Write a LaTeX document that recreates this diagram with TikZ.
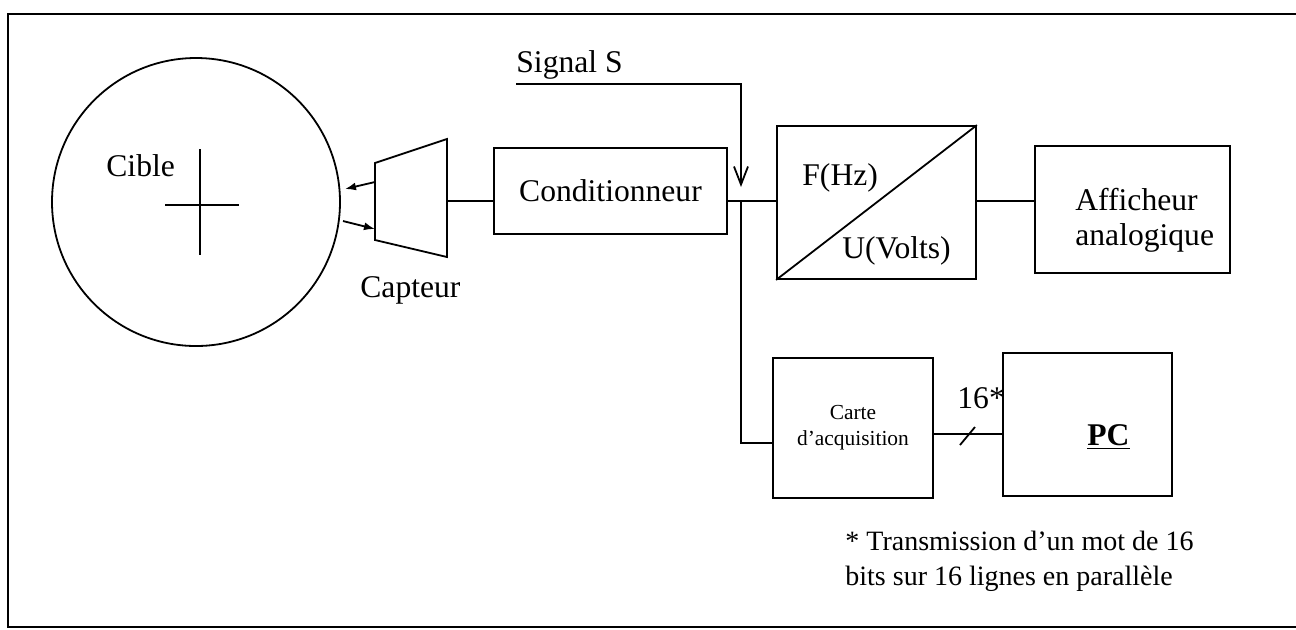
\documentclass[tikz,border=0pt]{standalone}
\usepackage{fontspec}
\setmainfont{Liberation Serif}
\usetikzlibrary{arrows.meta,calc}
\begin{document}
\begin{tikzpicture}[x=0.5pt,y=-0.5pt,
  ln/.style={line width=0.9pt},
  box/.style={draw,line width=0.9pt,rectangle,inner sep=0pt},
  txt/.style={inner sep=0pt,font=\fontsize{15.8}{18}\selectfont},
  note/.style={inner sep=0pt,font=\fontsize{14}{17}\selectfont},
  small/.style={inner sep=0pt,font=\fontsize{10.7}{13}\selectfont},
  vtip/.style={-{Straight Barb[length=9pt,width=7pt]}},
  ftip/.style={-{Latex[length=5.5pt,width=4pt]}}]
\useasboundingbox (0,0) rectangle (1296,629);
% frame
\draw[line width=1.3pt] (1296,14) -- (8,14) -- (8,627) -- (1296,627);
% target
\node[draw,ln,circle,minimum size=144pt,inner sep=0pt] (cible) at (196,202) {};
\draw[ln] (200,149) -- (200,255);
\draw[ln] (165,205) -- (239,205);
\node[txt,anchor=base west] (ciblet) at (106,176) {Cible};
% sensor
\draw[ln] (375,163) -- (447,139) -- (447,257) -- (375,240) -- cycle;
\coordinate (capR) at (447,201);
\coordinate (a1s) at (375,182);
\coordinate (a1e) at (345,189);
\coordinate (a2s) at (343,221);
\coordinate (a2e) at (375,229);
\draw[ln,ftip] (a1s) -- (a1e);
\draw[ln,ftip] (a2s) -- (a2e);
\node[txt,anchor=base west] (capt) at (360,297) {Capteur};
% boxes
\node[box,txt,minimum width=116.5pt,minimum height=43pt] (cond) at (610.5,191) {Conditionneur};
\node[box,minimum width=99.5pt,minimum height=76.5pt] (fu) at (876.5,202.5) {};
\draw[ln] (fu.south west) -- (fu.north east);
\node[txt,anchor=base west] (fhz) at (802,185) {F(Hz)};
\node[txt,anchor=base west] (uv) at (842,258) {U(Volts)};
\node[box,minimum width=97.5pt,minimum height=63.5pt] (aff) at (1132.5,209.5) {};
\node[txt,anchor=base west] (aff1) at (1075,210) {Afficheur};
\node[txt,anchor=base west] (aff2) at (1075,245) {analogique};
\node[box,small,align=center,minimum width=80pt,minimum height=70pt] (carte) at (853,428) {Carte\\d’acquisition};
\node[box,minimum width=84.5pt,minimum height=71.5pt] (pc) at (1087.5,424.5) {};
\node[txt,anchor=base west] (pct) at (1087,445) {\underline{\textbf{PC}}};
% connections
\draw[ln] (capR) -- (capR -| cond.west);
\coordinate (J) at (741,201);
\draw[ln] (J -| cond.east) -- (J -| fu.west);
\draw[ln] (J -| fu.east) -- (J -| aff.west);
\coordinate (K) at (741,443);
\draw[ln] (J) -- (K) -- (K -| carte.west);
\coordinate (cl) at (0,434);
\draw[ln] (carte.east |- cl) -- (pc.west |- cl);
\coordinate (sl1) at (960,445);
\coordinate (sl2) at (975,427);
\draw[ln] (sl1) -- (sl2);
\node[txt,anchor=base west] (n16) at (957,408) {16*};
% signal S
\node[txt,anchor=base west] (sig) at (516,72) {Signal S};
\coordinate (s0) at (516,84);
\coordinate (s1) at (741,84);
\coordinate (s2) at (741,187);
\draw[ln,vtip] (s0) -- (s1) -- (s2);
% footnote
\node[note,anchor=base west] (fn1) at (845,550) {* Transmission d’un mot de 16};
\node[note,anchor=base west] (fn2) at (845,585) {bits sur 16 lignes en parallèle};
\end{tikzpicture}
\end{document}
